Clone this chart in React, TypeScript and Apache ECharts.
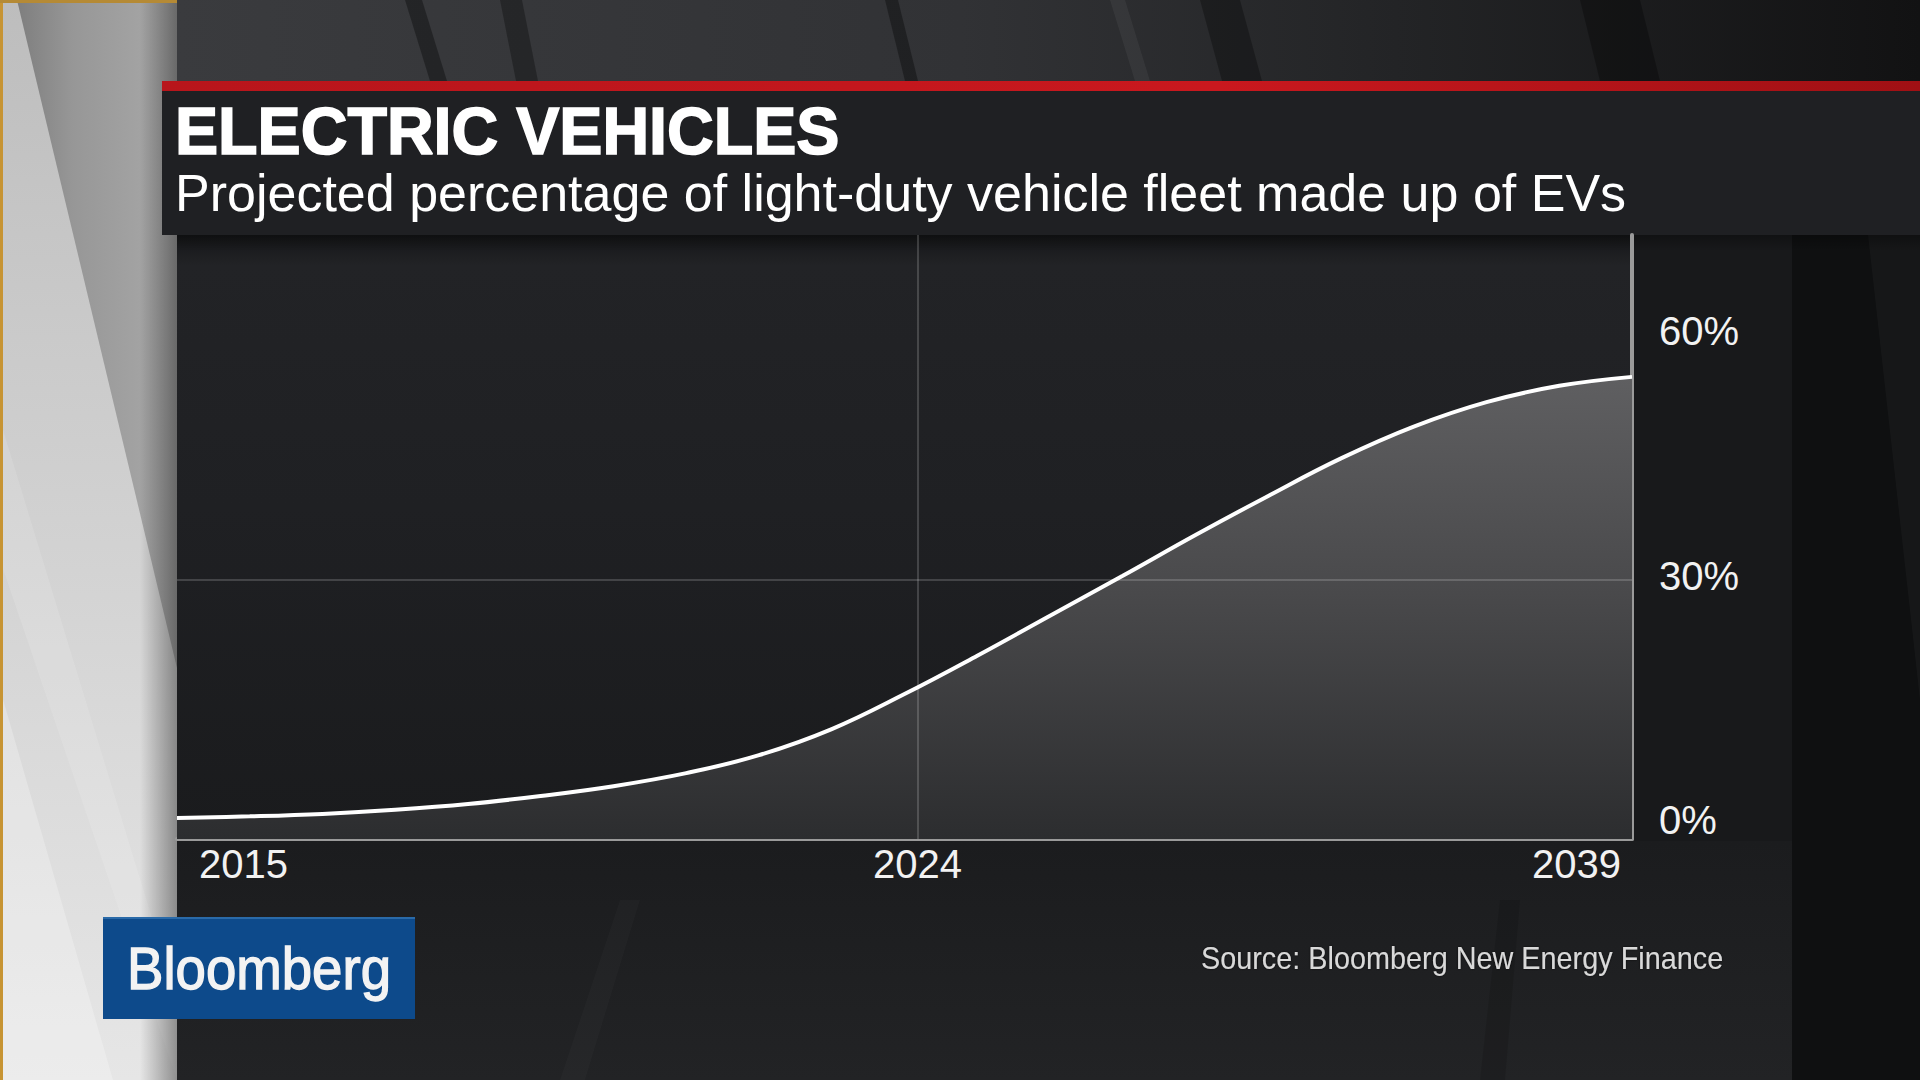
import { useEffect, useRef } from "react";
import * as echarts from "echarts";

// ---- data ----
// horizontal position along the time span (0 = 2015 edge, 100 = 2039 edge)
const xPositions = [0, 5, 10, 15, 20, 25, 30, 35, 40, 45, 50, 55, 60, 65, 70, 75, 80, 85, 90, 95, 100];
// projected EV share of light-duty fleet, %
const evShare = [0.8, 1.0, 1.3, 1.8, 2.5, 3.5, 4.7, 6.3, 8.5, 11.7, 16.0, 20.7, 25.6, 30.5, 35.5, 40.3, 44.9, 48.8, 51.8, 53.8, 54.9];
// x-axis tick positions and their labels
const xTickPositions = [0, 50.9, 100];
const xTickLabels = ["2015", "2024", "2039"];
// y-axis ticks (%)
const yTickValues = [0, 30, 60];
const yMin = -1.78;
const yMax = 72.3;
// reference grid lines
const gridLineValue = 30;
const gridLinePosition = 50.9;

const titleText = "ELECTRIC VEHICLES";
const subtitleText = "Projected percentage of light-duty vehicle fleet made up of EVs";
const sourceText = "Source: Bloomberg New Energy Finance";
const logoText = "Bloomberg";

const FONT = '"Liberation Sans", Arial, Helvetica, sans-serif';

export default function App() {
  const ref = useRef<HTMLDivElement>(null);

  useEffect(() => {
    if (!ref.current) return;
    const chart = echarts.init(ref.current, null, { renderer: "svg" });
    const LG = echarts.graphic.LinearGradient;
    const seriesData = xPositions.map((x, i) => [x, evShare[i]]);

    const bg: any[] = [
      // base
      { type: "rect", z: -20, shape: { x: 0, y: 0, width: 1920, height: 1080 }, style: { fill: "#1b1c1e" } },
      // top studio strip
      {
        type: "rect", z: -19, shape: { x: 177, y: 0, width: 1743, height: 81 },
        style: { fill: new LG(0, 0, 1, 0, [
          { offset: 0, color: "#3a3b3e" }, { offset: 0.45, color: "#313235" },
          { offset: 0.7, color: "#232426" }, { offset: 1, color: "#121213" }]) },
      },
      { type: "polygon", z: -18, shape: { points: [[405, 0], [422, 0], [447, 81], [430, 81]] }, style: { fill: "rgba(0,0,0,0.35)" } },
      { type: "polygon", z: -18, shape: { points: [[500, 0], [522, 0], [538, 81], [516, 81]] }, style: { fill: "rgba(0,0,0,0.3)" } },
      { type: "polygon", z: -18, shape: { points: [[885, 0], [898, 0], [918, 81], [905, 81]] }, style: { fill: "rgba(0,0,0,0.35)" } },
      { type: "polygon", z: -18, shape: { points: [[1110, 0], [1125, 0], [1150, 81], [1135, 81]] }, style: { fill: "rgba(255,255,255,0.05)" } },
      { type: "polygon", z: -18, shape: { points: [[1200, 0], [1240, 0], [1262, 81], [1222, 81]] }, style: { fill: "rgba(0,0,0,0.3)" } },
      { type: "polygon", z: -18, shape: { points: [[1580, 0], [1640, 0], [1660, 81], [1600, 81]] }, style: { fill: "rgba(0,0,0,0.3)" } },
      // plot background
      {
        type: "rect", z: -17, shape: { x: 177, y: 235, width: 1455, height: 604 },
        style: { fill: new LG(0, 0, 0, 1, [
          { offset: 0, color: "#151618" }, { offset: 0.05, color: "#222326" },
          { offset: 0.45, color: "#1f2023" }, { offset: 1, color: "#1a1b1d" }]) },
      },
      // right side
      { type: "rect", z: -17, shape: { x: 1632, y: 235, width: 160, height: 845 }, style: { fill: "#18191b" } },
      { type: "rect", z: -17, shape: { x: 1792, y: 235, width: 128, height: 845 }, style: { fill: "#0f1011" } },
      { type: "polygon", z: -16, shape: { points: [[1868, 235], [1920, 235], [1920, 700]] }, style: { fill: "rgba(255,255,255,0.03)" } },
      // bottom area
      {
        type: "rect", z: -17, shape: { x: 177, y: 841, width: 1615, height: 239 },
        style: { fill: new LG(0, 0, 0, 1, [{ offset: 0, color: "#1b1c1e" }, { offset: 1, color: "#222325" }]) },
      },
      { type: "polygon", z: -16, shape: { points: [[560, 1080], [620, 900], [640, 900], [585, 1080]] }, style: { fill: "rgba(255,255,255,0.02)" } },
      { type: "polygon", z: -16, shape: { points: [[1480, 1080], [1500, 900], [1520, 900], [1505, 1080]] }, style: { fill: "rgba(0,0,0,0.12)" } },
      // left light panel
      {
        type: "rect", z: -15, shape: { x: 0, y: 0, width: 177, height: 1080 },
        style: { fill: new LG(0, 0, 0, 1, [{ offset: 0, color: "#bdbdbd" }, { offset: 0.6, color: "#d6d6d6" }, { offset: 1, color: "#e6e6e6" }]) },
      },
      {
        type: "polygon", z: -14, shape: { points: [[17, 0], [177, 0], [177, 668]] },
        style: { fill: new LG(0, 0, 1, 0, [{ offset: 0, color: "#7e7e7e" }, { offset: 0.35, color: "#979797" }, { offset: 1, color: "#a9a9a9" }]) },
      },
      { type: "polygon", z: -14, shape: { points: [[0, 420], [177, 1000], [177, 1080], [0, 560]] }, style: { fill: "rgba(255,255,255,0.12)" } },
      { type: "polygon", z: -14, shape: { points: [[0, 689], [113, 1080], [0, 1080]] }, style: { fill: "rgba(255,255,255,0.25)" } },
      {
        type: "rect", z: -13, shape: { x: 140, y: 0, width: 37, height: 1080 },
        style: { fill: new LG(0, 0, 1, 0, [{ offset: 0, color: "rgba(0,0,0,0)" }, { offset: 1, color: "rgba(0,0,0,0.38)" }]) },
      },
      { type: "rect", z: -12, shape: { x: 0, y: 0, width: 3, height: 1080 }, style: { fill: "#c79433" } },
      { type: "rect", z: -12, shape: { x: 0, y: 0, width: 177, height: 3 }, style: { fill: "#b58a35" } },
      // red bar + title band
      {
        type: "rect", z: -11, shape: { x: 162, y: 81, width: 1758, height: 10 },
        style: { fill: new LG(0, 0, 1, 0, [{ offset: 0, color: "#b8151b" }, { offset: 0.6, color: "#c9181e" }, { offset: 1, color: "#a01014" }]) },
      },
      { type: "rect", z: -11, shape: { x: 162, y: 91, width: 1758, height: 144 }, style: { fill: "#1f2023" } },
      {
        type: "rect", z: -10, shape: { x: 177, y: 235, width: 1743, height: 16 },
        style: { fill: new LG(0, 0, 0, 1, [{ offset: 0, color: "rgba(0,0,0,0.3)" }, { offset: 1, color: "rgba(0,0,0,0)" }]) },
      },
      // logo box
      { type: "rect", z: 5, shape: { x: 103, y: 917, width: 312, height: 102 }, style: { fill: "#0d4a8b" } },
      { type: "rect", z: 5, shape: { x: 103, y: 917, width: 312, height: 2 }, style: { fill: "#2a6aa8" } },
    ];

    const texts: any[] = [
      {
        type: "text", z: 10, x: 175, y: 131, scaleX: 0.965,
        style: { text: titleText, fill: "#ffffff", stroke: "#ffffff", lineWidth: 1.6, fontFamily: FONT, fontWeight: "bold", fontSize: 67, align: "left", verticalAlign: "middle" },
      },
      {
        type: "text", z: 10, x: 175, y: 193,
        style: { text: subtitleText, fill: "#ffffff", fontFamily: FONT, fontSize: 52, align: "left", verticalAlign: "middle" },
      },
      {
        type: "text", z: 10, x: 1201, y: 958, scaleX: 0.93,
        style: { text: sourceText, fill: "#d9d9d9", fontFamily: FONT, fontSize: 31, align: "left", verticalAlign: "middle",
          textShadowColor: "rgba(0,0,0,0.7)", textShadowBlur: 2 },
      },
      {
        type: "text", z: 10, x: 127, y: 968, scaleX: 0.91,
        style: { text: logoText, fill: "#f3f3f3", stroke: "#f3f3f3", lineWidth: 1.4, fontFamily: FONT, fontSize: 60, align: "left", verticalAlign: "middle" },
      },
    ];

    const labelFont = { fontFamily: FONT, fontSize: 40, color: "#f2f2f2" };

    chart.setOption({
      animation: false,
      backgroundColor: "#1b1c1e",
      graphic: { elements: [...bg, ...texts] },
      grid: { left: 177, right: 288, top: 235, bottom: 241, containLabel: false, outerBoundsMode: "none" },
      xAxis: {
        type: "value",
        min: 0,
        max: 100,
        axisLine: { show: true, onZero: false, lineStyle: { color: "#9a9a9a", width: 4 } },
        axisTick: { show: false, customValues: xTickPositions },
        splitLine: { show: false },
        axisLabel: {
          customValues: xTickPositions,
          showMinLabel: true,
          showMaxLabel: true,
          margin: 5,
          formatter: (v: number) => {
            const i = xTickPositions.indexOf(v);
            const key = i === 0 ? "first" : i === xTickPositions.length - 1 ? "last" : "mid";
            return `{${key}|${xTickLabels[i] ?? ""}}`;
          },
          rich: {
            first: { ...labelFont, padding: [0, 0, 0, 133] },
            mid: { ...labelFont },
            last: { ...labelFont, padding: [0, 111, 0, 0] },
          },
          ...labelFont,
        },
      },
      yAxis: {
        type: "value",
        position: "right",
        min: yMin,
        max: yMax,
        axisLine: { show: true, onZero: false, lineStyle: { color: "#9a9a9a", width: 4 } },
        axisTick: { show: false, customValues: yTickValues },
        splitLine: { show: false },
        axisLabel: {
          customValues: yTickValues,
          showMinLabel: true,
          showMaxLabel: true,
          margin: 27,
          formatter: (v: number) => `{v|${v}%}`,
          rich: { v: { ...labelFont, padding: [0, 0, 8, 0] } },
          ...labelFont,
        },
      },
      series: [
        {
          type: "line",
          name: "area",
          data: seriesData,
          smooth: 0.4,
          showSymbol: false,
          silent: true,
          z: 1,
          lineStyle: { width: 0 },
          areaStyle: {
            origin: "start",
            opacity: 1,
            color: new LG(0, 0, 0, 1, [
              { offset: 0, color: "#5f5f61" },
              { offset: 0.45, color: "#4a4a4c" },
              { offset: 1, color: "#2c2d2f" },
            ]),
          },
          markLine: {
            silent: true,
            z: 2,
            symbol: ["none", "none"],
            label: { show: false },
            lineStyle: { color: "rgba(255,255,255,0.17)", width: 2, type: "solid" },
            data: [{ yAxis: gridLineValue }, { xAxis: gridLinePosition }],
          },
        },
        {
          type: "line",
          name: "EV share",
          data: seriesData,
          smooth: 0.4,
          showSymbol: false,
          silent: true,
          z: 3,
          lineStyle: { color: "#ffffff", width: 4 },
        },
      ],
    });

    return () => chart.dispose();
  }, []);

  return <div ref={ref} style={{ position: "fixed", left: 0, top: 0, width: 1920, height: 1080 }} />;
}
